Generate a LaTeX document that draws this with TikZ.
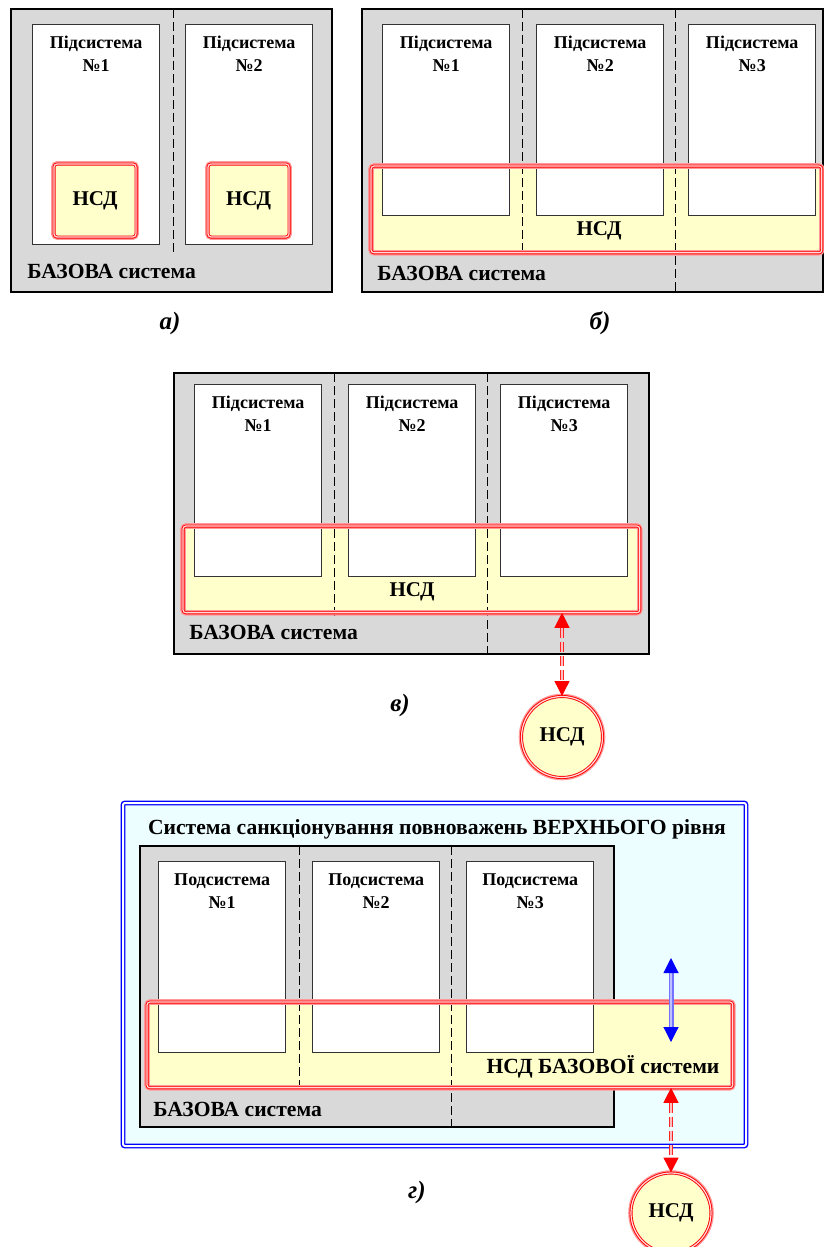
\documentclass[tikz,border=0pt]{standalone}
\usepackage{fontspec}
\setmainfont{Liberation Serif}
\usetikzlibrary{positioning,arrows.meta}

\definecolor{basegray}{RGB}{217,217,217}
\definecolor{nsdyellow}{RGB}{255,255,204}
\definecolor{topcyan}{RGB}{236,254,255}

\tikzset{
  base/.style={draw, line width=1.4pt, fill=basegray},
  subsys/.style={draw=black!80, line width=0.7pt, fill=white, anchor=north west,
    minimum width=63.5pt, inner sep=0pt},
  subtxt/.style={font=\fontsize{9}{11.5}\selectfont\bfseries, align=center, inner sep=0pt},
  sep/.style={dash pattern=on 4.5pt off 2pt, line width=0.5pt},
  nsdfill/.style={fill=nsdyellow, anchor=north west, inner sep=0pt},
  nsdline/.style={preaction={draw=red!40, line width=2.8pt}, draw=red, double=red!15,
    double distance=0.6pt, line width=0.45pt, rounded corners=1.5pt},
  nsdbox/.style={nsdline, fill=nsdyellow, inner sep=0pt, font=\fontsize{10.5}{12}\selectfont\bfseries},
  nsdcirc/.style={nsdbox, circle, rounded corners=0pt},
  nsdtxt/.style={font=\fontsize{10.5}{12}\selectfont\bfseries, inner sep=0pt},
  basetxt/.style={font=\fontsize{10.8}{13}\selectfont\bfseries, anchor=base west, inner sep=0pt},
  caplbl/.style={font=\fontsize{12.5}{14}\selectfont\bfseries\itshape, inner sep=0pt},
  toptxt/.style={font=\fontsize{10.8}{13}\selectfont\bfseries, inner sep=0pt},
  upper/.style={draw=blue, double=white, double distance=1pt, line width=0.7pt,
    fill=topcyan, rounded corners=1pt},
  redlink/.style={{Triangle[length=7.5pt,width=7.5pt,color=red]}-{Triangle[length=7.5pt,width=7.5pt,color=red]},
    draw=red!85, double=red!25, double distance=1.3pt, line width=0.55pt,
    dash pattern=on 5pt off 2pt},
  bluelink/.style={{Triangle[length=7.5pt,width=7.5pt,color=blue]}-{Triangle[length=7.5pt,width=7.5pt,color=blue]},
    draw=blue!55, double=blue!25, double distance=1.4pt, line width=0.55pt}
}

\begin{document}
\begin{tikzpicture}[x=0.5pt,y=-0.5pt]
  \useasboundingbox (0,0) rectangle (824,1247);

  % --- a) ---
  \draw[base] (11,9) rectangle (332,292);
  \node[subsys, minimum height=110pt] (a1) at (32,24) {};
  \node[subsys, minimum height=110pt] (a2) at (185,24) {};
  \node[subtxt, below=6pt of a1.north] (a1t) {Підсистема\\№1};
  \node[subtxt, below=6pt of a2.north] (a2t) {Підсистема\\№2};
  \draw[sep] (173,9) -- (173,256);
  \node[nsdbox, minimum width=41pt, minimum height=36.5pt] (a1n) at (95,200.5) {НСД};
  \node[nsdbox, minimum width=40.5pt, minimum height=36.5pt] (a2n) at (248.5,200.5) {НСД};
  \node[basetxt] (abase) at (27,278) {БАЗОВА система};
  \node[caplbl] (acap) at (170,323) {а)};

  % --- b) ---
  \draw[base] (362,9) rectangle (823,292);
  \node[nsdfill, minimum width=225pt, minimum height=43pt] (bnsd) at (371,166) {};
  \node[subsys, minimum height=95.5pt] (b1) at (382,24) {};
  \node[subsys, minimum height=95.5pt] (b2) at (536,24) {};
  \node[subsys, minimum height=95.5pt] (b3) at (688,24) {};
  \node[subtxt, below=6pt of b1.north] (b1t) {Підсистема\\№1};
  \node[subtxt, below=6pt of b2.north] (b2t) {Підсистема\\№2};
  \node[subtxt, below=6pt of b3.north] (b3t) {Підсистема\\№3};
  \draw[sep] (522,9) -- (522,255);
  \draw[sep] (675,9) -- (675,292);
  \draw[nsdline] (bnsd.north west) rectangle (bnsd.south east);
  \node[nsdtxt] (bnsdt) at (599,231) {НСД};
  \node[basetxt] (bbase) at (377,280) {БАЗОВА система};
  \node[caplbl] (bcap) at (600,323) {б)};

  % --- v) ---
  \draw[base] (174,373) rectangle (649,654);
  \node[nsdfill, minimum width=228pt, minimum height=43pt] (vnsd) at (183,526) {};
  \node[subsys, minimum height=96pt] (v1) at (194,384) {};
  \node[subsys, minimum height=96pt] (v2) at (348,384) {};
  \node[subsys, minimum height=96pt] (v3) at (500,384) {};
  \node[subtxt, below=6pt of v1.north] (v1t) {Підсистема\\№1};
  \node[subtxt, below=6pt of v2.north] (v2t) {Підсистема\\№2};
  \node[subtxt, below=6pt of v3.north] (v3t) {Підсистема\\№3};
  \draw[sep] (334,373) -- (334,618);
  \draw[sep] (487,373) -- (487,654);
  \draw[nsdline] (vnsd.north west) rectangle (vnsd.south east);
  \node[nsdtxt] (vnsdt) at (412,592) {НСД};
  \node[basetxt] (vbase) at (189,639) {БАЗОВА система};
  \node[caplbl] (vcap) at (400,705) {в)};
  \node[nsdcirc, minimum size=40.5pt] (vcirc) at (562,737) {НСД};
  \draw[redlink] (vnsd.south -| vcirc.north) -- (vcirc.north);

  % --- g) ---
  \draw[upper] (123,803) rectangle (746,1146);
  \node[toptxt] (gtop) at (437,829) {Система санкціонування повноважень ВЕРХНЬОГО рівня};
  \draw[base] (140,846) rectangle (614,1127);
  \node[nsdfill, minimum width=292.5pt, minimum height=42.5pt] (gnsd) at (147,1002) {};
  \node[subsys, minimum height=95.5pt] (g1) at (158,861) {};
  \node[subsys, minimum height=95.5pt] (g2) at (312,861) {};
  \node[subsys, minimum height=95.5pt] (g3) at (466,861) {};
  \node[subtxt, below=6pt of g1.north] (g1t) {Подсистема\\№1};
  \node[subtxt, below=6pt of g2.north] (g2t) {Подсистема\\№2};
  \node[subtxt, below=6pt of g3.north] (g3t) {Подсистема\\№3};
  \draw[sep] (299,846) -- (299,1092);
  \draw[sep] (451,846) -- (451,1127);
  \draw[nsdline] (gnsd.north west) rectangle (gnsd.south east);
  \node[nsdtxt, font=\fontsize{10.8}{13}\selectfont\bfseries] (gnsdt) at (603,1067) {НСД БАЗОВОЇ системи};
  \node[basetxt] (gbase) at (153,1116) {БАЗОВА система};
  \coordinate (gup) at (671,958);
  \coordinate (gdn) at (671,1042);
  \draw[bluelink] (gup) -- (gdn);
  \node[caplbl] (gcap) at (417,1192) {г)};
  \node[nsdcirc, minimum size=40pt] (gcirc) at (671,1213) {НСД};
  \draw[redlink] (gnsd.south -| gcirc.north) -- (gcirc.north);
\end{tikzpicture}
\end{document}
